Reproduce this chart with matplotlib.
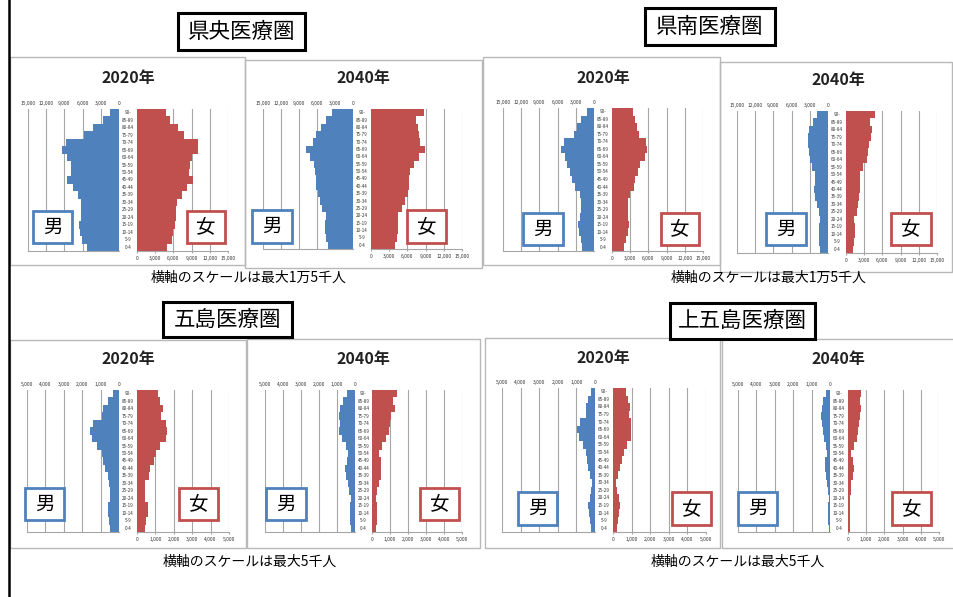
import numpy as np
import matplotlib
matplotlib.use("Agg")
import matplotlib.pyplot as plt
import matplotlib.transforms as mtransforms
from matplotlib.patches import Rectangle
from matplotlib.lines import Line2D
from matplotlib.ticker import FuncFormatter

plt.rcParams['font.family'] = ['Noto Sans CJK JP', 'DejaVu Sans']

W, H = 954, 597

ages = ['0-4', '5-9', '10-14', '15-19', '20-24', '25-29', '30-34', '35-39', '40-44',
        '45-49', '50-54', '55-59', '60-64', '65-69', '70-74', '75-79', '80-84', '85-89', '90-']

# values from 0-4 up to 90-
kenou_2020_m = [5270, 6040, 6480, 6650, 6210, 6210, 6210, 6760, 7580, 8570, 7860, 7860, 8570, 9340, 8680, 5820, 4290, 2640, 1540]
kenou_2020_f = [5020, 5730, 6000, 6270, 6380, 6380, 6550, 7360, 8180, 9270, 8620, 8730, 9000, 10090, 10090, 7750, 6820, 5450, 4800]
kenou_2040_m = [4170, 4440, 4610, 4610, 4440, 5170, 5560, 5830, 6110, 6110, 6280, 6500, 7220, 7780, 6670, 6110, 5390, 4440, 3500]
kenou_2040_f = [3970, 4250, 4410, 4410, 4520, 5070, 5620, 6070, 6340, 6340, 6450, 7110, 7940, 8930, 8110, 7940, 7720, 7390, 8770]

kennan_2020_m = [1980, 2200, 2470, 2640, 2360, 2090, 2090, 2360, 3190, 3630, 4010, 4400, 4840, 5380, 5000, 3300, 2750, 2090, 1100]
kennan_2020_f = [1910, 2290, 2620, 2730, 2620, 2620, 2620, 3000, 3550, 3820, 4250, 4640, 5450, 5730, 5560, 4470, 4090, 3820, 3440]
kennan_2040_m = [1370, 1430, 1430, 1430, 1260, 1540, 1810, 2090, 2360, 2090, 2200, 2640, 3020, 3190, 3350, 3350, 3190, 2470, 1810]
kennan_2040_f = [1200, 1370, 1480, 1480, 1370, 1750, 1920, 2190, 2300, 2300, 2300, 2850, 3390, 3670, 3780, 4050, 4320, 3940, 4760]

goto_2020_m = [500, 540, 590, 590, 500, 500, 540, 590, 770, 860, 950, 1190, 1490, 1580, 1400, 920, 860, 590, 320]
goto_2020_f = [410, 500, 590, 590, 410, 410, 410, 650, 720, 900, 1040, 1260, 1550, 1640, 1580, 1310, 1440, 1260, 1130]
goto_2040_m = [220, 280, 280, 280, 220, 330, 410, 520, 560, 460, 370, 520, 700, 870, 830, 890, 830, 650, 460]
goto_2040_f = [240, 280, 280, 280, 240, 300, 390, 480, 520, 480, 370, 560, 800, 930, 980, 1070, 1300, 1170, 1390]

kamigoto_2020_m = [220, 270, 320, 360, 270, 220, 180, 270, 400, 450, 500, 630, 860, 990, 810, 500, 500, 400, 220]
kamigoto_2020_f = [230, 270, 310, 360, 310, 230, 180, 270, 360, 490, 590, 770, 990, 990, 990, 850, 900, 810, 720]
kamigoto_2040_m = [70, 90, 90, 90, 70, 110, 150, 220, 290, 250, 150, 220, 330, 400, 450, 490, 450, 360, 220]
kamigoto_2040_f = [110, 130, 130, 130, 110, 150, 180, 270, 310, 270, 180, 310, 490, 550, 600, 640, 730, 640, 730]

region_names = ['県央医療圏', '県南医療圏', '五島医療圏', '上五島医療圏']
captions = ['横軸のスケールは最大1万5千人', '横軸のスケールは最大1万5千人',
            '横軸のスケールは最大5千人', '横軸のスケールは最大5千人']

BLUE = '#4F81BD'
RED = '#C0504D'
GRID = '#a6a6a6'


def rect(x0, y0, x1, y1):
    return [x0 / W, 1 - y1 / H, (x1 - x0) / W, (y1 - y0) / H]


def box(x0, y0, x1, y1, ec, lw, fc='none'):
    fig.add_artist(Rectangle((x0 / W, 1 - y1 / H), (x1 - x0) / W, (y1 - y0) / H,
                             transform=fig.transFigure, ec=ec, fc=fc, lw=lw))


def draw_pyramid(lay, year, male, female, xmax, step):
    box(*lay['box'], ec='#b8b8b8', lw=1.0)
    fig.text(lay['title'][0] / W, 1 - lay['title'][1] / H, year, ha='center', va='center',
             fontsize=11.5, fontweight='bold', color='#222222')
    lx0, lx1, rx0, rx1, y0, y1 = lay['axes']
    axm = fig.add_axes(rect(lx0, y0, lx1, y1))
    axf = fig.add_axes(rect(rx0, y0, rx1, y1))
    ticks = np.arange(0, xmax + 1, step)
    for ax, vals, col in ((axm, male, BLUE), (axf, female, RED)):
        ax.barh(np.arange(len(ages)), vals, height=1.0, color=col, zorder=2)
        ax.set_ylim(-0.5, len(ages) - 0.5)
        ax.set_xticks(ticks)
        ax.xaxis.set_major_formatter(FuncFormatter(lambda v, p: f'{int(v):,}'))
        ax.grid(axis='x', color=GRID, lw=0.8, zorder=0)
        ax.set_yticks([])
        for s in ('top', 'left', 'right'):
            ax.spines[s].set_visible(False)
        ax.spines['bottom'].set_color(GRID)
        ax.tick_params(axis='x', labelsize=3.5, length=1.5, color=GRID, pad=2, labelcolor='#333333')
        ax.set_facecolor('none')
    axm.set_xlim(xmax, 0)
    axf.set_xlim(0, xmax)
    axm.xaxis.tick_top()
    axm.tick_params(axis='x', length=0)
    tr = mtransforms.blended_transform_factory(fig.transFigure, axm.transData)
    cx = (lx1 + rx0) / 2 / W
    for i, a in enumerate(ages):
        fig.text(cx, i, a, transform=tr, ha='center', va='center', fontsize=3.3, color='#333333')
    for (bx0, by0, bx1, by1), label, col in ((lay['m'], '男', BLUE), (lay['f'], '女', RED)):
        box(bx0, by0, bx1, by1, ec=col, lw=2.0, fc='white')
        fig.text((bx0 + bx1) / 2 / W, 1 - (by0 + by1) / 2 / H, label, ha='center', va='center',
                 fontsize=14, color='black')


fig = plt.figure(figsize=(W / 100, H / 100), dpi=100)
fig.patch.set_facecolor('white')

layouts = [
    dict(box=(10, 57, 245, 265), title=(128, 78), axes=(28, 119, 137, 228, 109, 251),
         m=(33, 211, 72, 243), f=(187, 211, 225, 243)),
    dict(box=(245, 60, 482, 268), title=(363, 78), axes=(263, 353, 371, 462, 109, 249),
         m=(252, 210, 292, 243), f=(407, 210, 446, 243)),
    dict(box=(483, 57, 720, 265), title=(603, 78), axes=(503, 594, 612, 703, 108, 251),
         m=(523, 213, 563, 245), f=(661, 213, 699, 245)),
    dict(box=(720, 62, 952, 272), title=(838, 80), axes=(737, 828, 846, 937, 111, 253),
         m=(766, 213, 806, 245), f=(891, 213, 931, 245)),
    dict(box=(10, 340, 246, 548), title=(128, 359), axes=(27, 119, 137, 229, 390, 532),
         m=(25, 488, 64, 520), f=(179, 488, 218, 520)),
    dict(box=(247, 339, 480, 548), title=(363, 359), axes=(265, 355, 372, 462, 390, 532),
         m=(266, 488, 306, 520), f=(420, 488, 459, 520)),
    dict(box=(485, 338, 720, 548), title=(603, 358), axes=(502, 595, 613, 706, 388, 532),
         m=(518, 492, 557, 525), f=(672, 492, 711, 525)),
    dict(box=(722, 339, 954, 548), title=(838, 359), axes=(738, 830, 848, 939, 390, 532),
         m=(738, 492, 777, 525), f=(892, 492, 931, 525)),
]

pyramids = [
    ('2020年', kenou_2020_m, kenou_2020_f, 15000, 3000),
    ('2040年', kenou_2040_m, kenou_2040_f, 15000, 3000),
    ('2020年', kennan_2020_m, kennan_2020_f, 15000, 3000),
    ('2040年', kennan_2040_m, kennan_2040_f, 15000, 3000),
    ('2020年', goto_2020_m, goto_2020_f, 5000, 1000),
    ('2040年', goto_2040_m, goto_2040_f, 5000, 1000),
    ('2020年', kamigoto_2020_m, kamigoto_2020_f, 5000, 1000),
    ('2040年', kamigoto_2040_m, kamigoto_2040_f, 5000, 1000),
]

for lay, (year, m, f, xmax, step) in zip(layouts, pyramids):
    draw_pyramid(lay, year, m, f, xmax, step)

# region name boxes
name_boxes = [(178, 13, 305, 50), (645, 8, 775, 45), (163, 302, 292, 337), (670, 303, 815, 339)]
for (x0, y0, x1, y1), name in zip(name_boxes, region_names):
    box(x0, y0, x1, y1, ec='black', lw=2.2, fc='white')
    fig.text((x0 + x1) / 2 / W, 1 - (y0 + y1) / 2 / H, name, ha='center', va='center', fontsize=15.5)

cap_pos = [(249, 278), (769, 278), (250, 562), (738, 562)]
for (x, y), c in zip(cap_pos, captions):
    fig.text(x / W, 1 - y / H, c, ha='center', va='center', fontsize=10)

fig.add_artist(Line2D([9.5 / W, 9.5 / W], [0, 1], color='black', lw=1.8, transform=fig.transFigure))

fig.savefig('out.png', dpi=100)
